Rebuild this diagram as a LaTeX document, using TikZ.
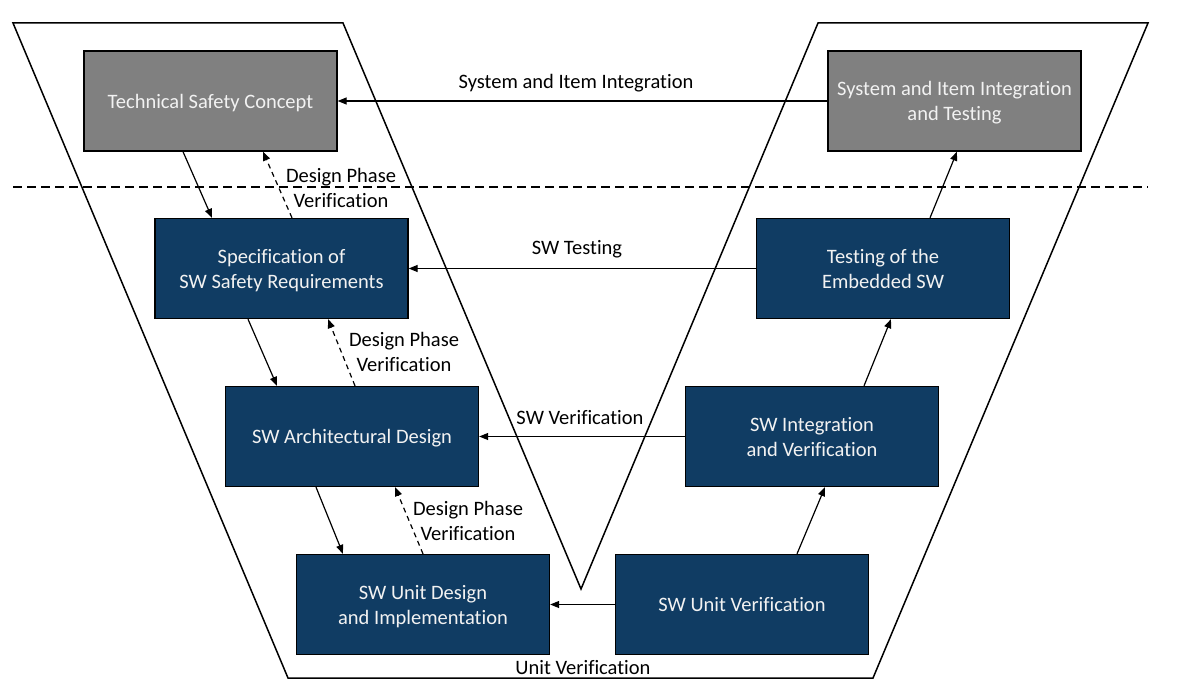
\documentclass[tikz,border=0pt]{standalone}
\usepackage{fontspec}
\setmainfont[Ligatures=NoCommon]{Carlito}
\usetikzlibrary{arrows.meta}
\usetikzlibrary{calc}

\definecolor{swblue}{RGB}{16,60,99}
\definecolor{sysgray}{RGB}{128,128,128}
\definecolor{boxtext}{RGB}{242,242,242}

\begin{document}
\begin{tikzpicture}[x=1pt, y=-1pt,
	phasebox/.style={draw=black, line width=1.3pt, minimum width=253pt, minimum height=100pt, align=center, text=boxtext, inner sep=0pt, text depth=0pt, font=\fontsize{20.5}{25}\selectfont},
	swbox/.style={phasebox, fill=swblue},
	sysbox/.style={phasebox, fill=sysgray},
	flow/.style={line width=1.2pt, -{Triangle[length=9pt,width=7pt]}},
	check/.style={flow, dash pattern=on 5pt off 4pt},
	lbl/.style={align=center, inner sep=0pt, text depth=0pt, font=\fontsize{20.5}{25}\selectfont}]
	\useasboundingbox (0,0) rectangle (1182,698);

	\draw[line width=1.5pt, line join=miter] (13,23) -- (343,23) -- (581,589) -- (818,23) -- (1148,23) -- (873,678) -- (288,678) -- cycle;
	\draw[line width=1.5pt, dash pattern=on 9pt off 5pt] (13,187) -- (1148,187);

	\node[sysbox] (tsc) at (210.5,101) {Technical Safety Concept};
	\node[sysbox] (siit) at (954.5,101) {System and Item Integration\\and Testing};
	\node[swbox] (spec) at (281.5,268.5) {Specification of\\SW Safety Requirements};
	\node[swbox] (emb) at (883,268.5) {Testing of the\\Embedded SW};
	\node[swbox] (arch) at (352,436.5) {SW Architectural Design};
	\node[swbox] (integ) at (812,436.5) {SW Integration\\and Verification};
	\node[swbox] (unit) at (423,604.5) {SW Unit Design\\and Implementation};
	\node[swbox] (uver) at (742,604.5) {SW Unit Verification};

	\draw[flow] ($(tsc.south)+(-27.5,0)$) -- ($(spec.north)+(-69.5,0)$);
	\draw[flow] ($(spec.south)+(-33.5,0)$) -- ($(arch.north)+(-75,0)$);
	\draw[flow] ($(arch.south)+(-36,0)$) -- ($(unit.north)+(-80,0)$);

	\draw[check] ($(spec.north)+(10.5,0)$) -- ($(tsc.south)+(52.5,0)$);
	\draw[check] ($(arch.north)+(3,0)$) -- ($(spec.south)+(46.5,0)$);
	\draw[check] ($(unit.north)+(0,0)$) -- ($(arch.south)+(43,0)$);

	\draw[flow] ($(uver.north)+(55,0)$) -- ($(integ.south)+(13,0)$);
	\draw[flow] ($(integ.north)+(52,0)$) -- ($(emb.south)+(8,0)$);
	\draw[flow] ($(emb.north)+(47,0)$) -- ($(siit.south)+(2.5,0)$);

	\draw[flow] (siit.west) -- (tsc.east);
	\draw[flow] (emb.west) -- (spec.east);
	\draw[flow] (integ.west) -- (arch.east);
	\draw[flow] (uver.west) -- (unit.east);

	\node[lbl] (sysint) at (576,81) {System and Item Integration};
	\node[lbl] (swtest) at (577,247) {SW Testing};
	\node[lbl] (swver) at (580,417) {SW Verification};
	\node[lbl] (unitver) at (583,667) {Unit Verification};
	\node[lbl] (dpv1) at (341,188) {Design Phase\\Verification};
	\node[lbl] (dpv2) at (404,352) {Design Phase\\Verification};
	\node[lbl] (dpv3) at (468,521) {Design Phase\\Verification};
\end{tikzpicture}
\end{document}
